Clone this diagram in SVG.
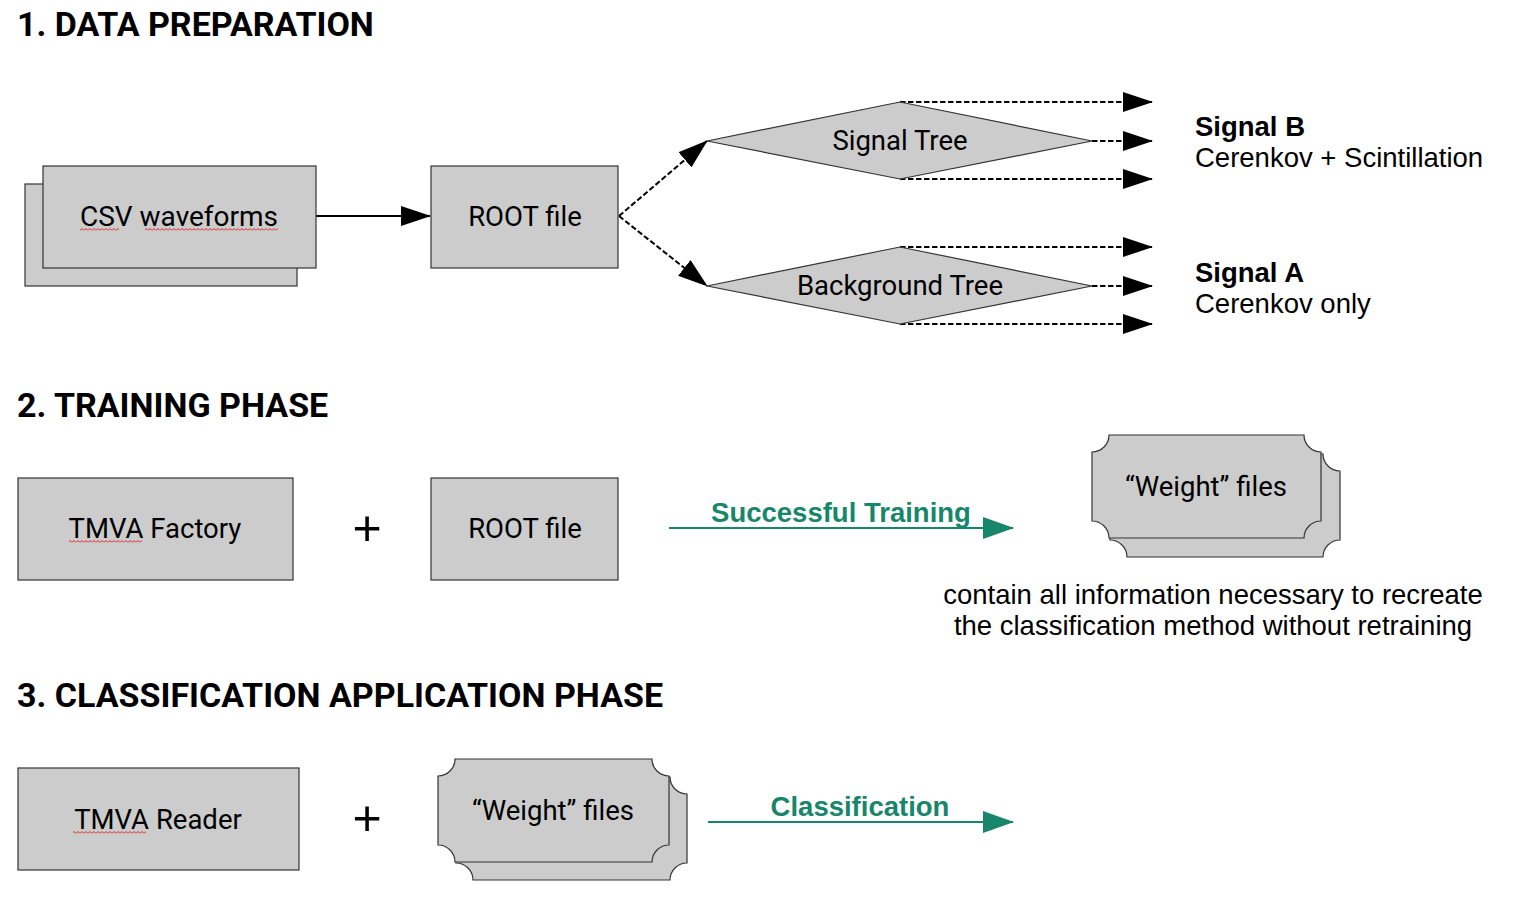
<svg xmlns="http://www.w3.org/2000/svg" width="1513" height="898" viewBox="0 0 1513 898">
<style>
.title{font-family:Roboto,"Liberation Sans",sans-serif;font-weight:bold;font-size:34px;fill:#000}
.rb{font-family:Roboto,"Liberation Sans",sans-serif;font-size:27.5px;fill:#000}
.ar{font-family:"Liberation Sans",Arial,sans-serif;font-size:27.5px;fill:#000}
.arb{font-family:"Liberation Sans",Arial,sans-serif;font-size:27.5px;font-weight:bold;fill:#000}
.grn{font-family:"Liberation Sans",Arial,sans-serif;font-size:27.5px;font-weight:bold;fill:#17866a}
.box{fill:#cccccc;stroke:#333;stroke-width:1.2}
.solid{stroke:#000;stroke-width:2;fill:none}
.dash{stroke:#000;stroke-width:2;fill:none;stroke-dasharray:5.5 2.5}
.gline{stroke:#17866a;stroke-width:2;fill:none}
.plus{font-family:"Liberation Sans",Arial,sans-serif;font-size:50px;fill:#000}
</style>
<defs>
<marker id="ah" markerUnits="userSpaceOnUse" markerWidth="30" markerHeight="20" refX="29" refY="10" orient="auto">
<path d="M0,0 L30,10 L0,20 Z" fill="#000"/>
</marker>
<marker id="ahg" markerUnits="userSpaceOnUse" markerWidth="31" markerHeight="22" refX="30" refY="11" orient="auto">
<path d="M0,0 L31,11 L0,22 Z" fill="#17866a"/>
</marker>
<pattern id="sq" width="4" height="3" patternUnits="userSpaceOnUse">
<path d="M0,2.5 L2,0.5 L4,2.5" stroke="#e02020" stroke-width="1" fill="none"/>
</pattern>
</defs>
<rect width="1513" height="898" fill="#fff"/>

<g id="titles">
<text class="title" x="17" y="36">1. DATA PREPARATION</text>
<text class="title" x="17" y="417">2. TRAINING PHASE</text>
<text class="title" x="17" y="707">3. CLASSIFICATION APPLICATION PHASE</text>
</g>

<g id="connectors">
<line class="solid" x1="316" y1="216" x2="430" y2="216" marker-end="url(#ah)"/>
<line class="dash" x1="619" y1="216" x2="707" y2="141" marker-end="url(#ah)"/>
<line class="dash" x1="619" y1="216" x2="707" y2="286" marker-end="url(#ah)"/>
<line class="dash" x1="900" y1="102" x2="1152" y2="102" marker-end="url(#ah)"/>
<line class="dash" x1="1092" y1="141" x2="1152" y2="141" marker-end="url(#ah)"/>
<line class="dash" x1="900" y1="179" x2="1152" y2="179" marker-end="url(#ah)"/>
<line class="dash" x1="900" y1="247" x2="1152" y2="247" marker-end="url(#ah)"/>
<line class="dash" x1="1092" y1="286" x2="1152" y2="286" marker-end="url(#ah)"/>
<line class="dash" x1="900" y1="324" x2="1152" y2="324" marker-end="url(#ah)"/>
<line class="gline" x1="669" y1="528" x2="1013" y2="528" marker-end="url(#ahg)"/>
<text class="grn" x="841" y="522" text-anchor="middle">Successful Training</text>
<line class="gline" x1="708" y1="822" x2="1013" y2="822" marker-end="url(#ahg)"/>
<text class="grn" x="860" y="816" text-anchor="middle">Classification</text>
</g>

<g id="csv-waveforms">
<rect class="box" x="25" y="184" width="272" height="102"/>
<rect class="box" x="43" y="166" width="273" height="102"/>
<text class="rb" x="179" y="226" text-anchor="middle" style="font-size:28px">CSV waveforms</text>
<rect x="80" y="228" width="39" height="3" fill="url(#sq)"/>
<rect x="145" y="228" width="133" height="3" fill="url(#sq)"/>
</g>

<g id="root-file-1">
<rect class="box" x="431" y="166" width="187" height="102"/>
<text class="rb" x="525" y="226" text-anchor="middle">ROOT file</text>
</g>

<g id="signal-tree">
<polygon class="box" points="707,141 900,102 1092,141 900,179"/>
<text class="rb" x="900" y="150" text-anchor="middle">Signal Tree</text>
</g>

<g id="background-tree">
<polygon class="box" points="707,286 900,247 1092,286 900,324"/>
<text class="rb" x="900" y="295" text-anchor="middle">Background Tree</text>
</g>

<g id="signal-b">
<text class="arb" x="1195" y="136">Signal B</text>
<text class="ar" x="1195" y="167">Cerenkov + Scintillation</text>
</g>

<g id="signal-a">
<text class="arb" x="1195" y="282">Signal A</text>
<text class="ar" x="1195" y="313">Cerenkov only</text>
</g>

<g id="tmva-factory">
<rect class="box" x="18" y="478" width="275" height="102"/>
<text class="rb" x="155" y="538" text-anchor="middle">TMVA Factory</text>
<rect x="69" y="540" width="73" height="3" fill="url(#sq)"/>
</g>

<g id="plus-1">
<text class="plus" x="367" y="545" text-anchor="middle">+</text>
</g>

<g id="root-file-2">
<rect class="box" x="431" y="478" width="187" height="102"/>
<text class="rb" x="525" y="538" text-anchor="middle">ROOT file</text>
</g>

<g id="weight-files-1">
<path class="box" d="M1127,454 H1323 A17,17 0 0 0 1340,471 V540 A17,17 0 0 0 1323,557 H1127 A17,17 0 0 0 1110,540 V471 A17,17 0 0 0 1127,454 Z"/>
<path class="box" d="M1109,435 H1304 A17,17 0 0 0 1321,452 V521 A17,17 0 0 0 1304,538 H1109 A17,17 0 0 0 1092,521 V452 A17,17 0 0 0 1109,435 Z"/>
<text class="rb" x="1206" y="496" text-anchor="middle">“Weight” files</text>
</g>

<g id="weight-note">
<text class="ar" x="1213" y="604" text-anchor="middle">contain all information necessary to recreate</text>
<text class="ar" x="1213" y="635" text-anchor="middle">the classification method without retraining</text>
</g>

<g id="tmva-reader">
<rect class="box" x="18" y="768" width="281" height="102"/>
<text class="rb" x="158" y="829" text-anchor="middle">TMVA Reader</text>
<rect x="73" y="831" width="73" height="3" fill="url(#sq)"/>
</g>

<g id="plus-2">
<text class="plus" x="367" y="835" text-anchor="middle">+</text>
</g>

<g id="weight-files-2">
<path class="box" d="M473,777 H670 A17,17 0 0 0 687,794 V863 A17,17 0 0 0 670,880 H473 A17,17 0 0 0 456,863 V794 A17,17 0 0 0 473,777 Z"/>
<path class="box" d="M455,759 H652 A17,17 0 0 0 669,776 V845 A17,17 0 0 0 652,862 H455 A17,17 0 0 0 438,845 V776 A17,17 0 0 0 455,759 Z"/>
<text class="rb" x="553" y="820" text-anchor="middle">“Weight” files</text>
</g>
</svg>
